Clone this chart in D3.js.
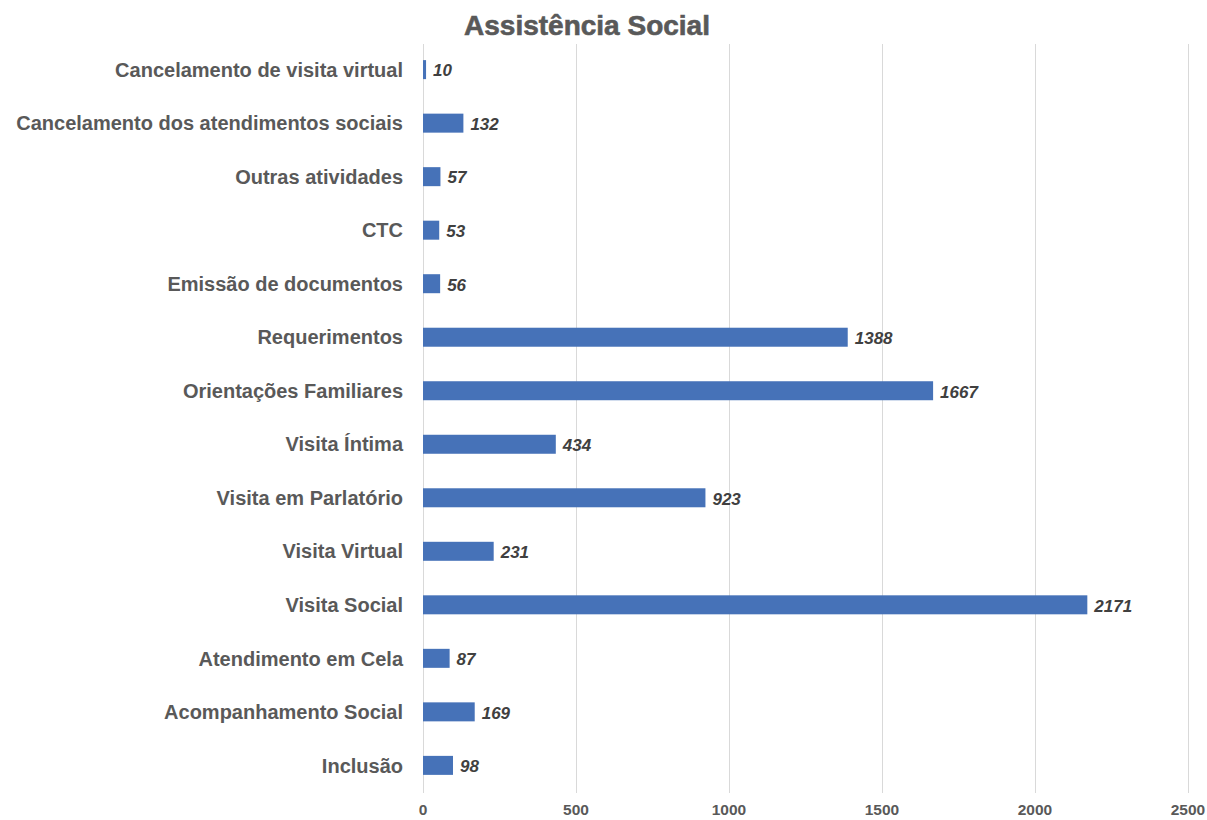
<!DOCTYPE html>
<html>
<head>
<meta charset="utf-8">
<script src="https://d3js.org/d3.v7.min.js"></script>
<style>
body { margin: 0; background: #fff; }
text { font-family: "Liberation Sans", Arial, sans-serif; }
.grid line { stroke: #d9d9d9; stroke-width: 1; }
.cat { font-size: 20px; font-weight: bold; fill: #595959; }
.val { font-size: 17px; font-weight: bold; font-style: italic; fill: #404040; }
.tick-label { font-size: 15.5px; font-weight: bold; fill: #595959; }
</style>
</head>
<body>
<script>

  var categories = [
    "Cancelamento de visita virtual",
    "Cancelamento dos atendimentos sociais",
    "Outras atividades",
    "CTC",
    "Emissão de documentos",
    "Requerimentos",
    "Orientações Familiares",
    "Visita Íntima",
    "Visita em Parlatório",
    "Visita Virtual",
    "Visita Social",
    "Atendimento em Cela",
    "Acompanhamento Social",
    "Inclusão"
  ];
  var values = [10, 132, 57, 53, 56, 1388, 1667, 434, 923, 231, 2171, 87, 169, 98];
  var ticks = [0, 500, 1000, 1500, 2000, 2500];

  var width = 1207,
      height = 820,
      margin = {top: 43, right: 19, bottom: 28, left: 423};

  var svg = d3.select('body').append('svg')
    .attr('width', width)
    .attr('height', height);

  var x = d3.scaleLinear()
    .domain([0, 2500])
    .range([margin.left, width - margin.right]);

  var y = d3.scaleBand()
    .domain(categories)
    .range([margin.top, height - margin.bottom])
    .paddingInner(0.645)
    .paddingOuter(0.32);

  // title
  svg.append('text')
    .attr('x', 587)
    .attr('y', 35)
    .attr('text-anchor', 'middle')
    .style('font-size', '28px')
    .style('font-weight', 'bold')
    .style('fill', '#595959')
    .style('stroke', '#595959')
    .style('stroke-width', '0.6px')
    .text('Assistência Social');

  // gridlines
  svg.append('g')
    .attr('class', 'grid')
    .selectAll('line')
    .data(ticks)
    .enter().append('line')
    .attr('x1', function(d) { return Math.round(x(d)) + 0.5; })
    .attr('x2', function(d) { return Math.round(x(d)) + 0.5; })
    .attr('y1', 44)
    .attr('y2', 793);

  // tick labels
  svg.append('g')
    .selectAll('text')
    .data(ticks)
    .enter().append('text')
    .attr('class', 'tick-label')
    .attr('x', function(d) { return x(d); })
    .attr('y', 815)
    .attr('text-anchor', 'middle')
    .text(function(d) { return d; });

  // category labels
  svg.append('g')
    .selectAll('text')
    .data(categories)
    .enter().append('text')
    .attr('class', 'cat')
    .attr('x', 403)
    .attr('y', function(d) { return y(d) + y.bandwidth() / 2; })
    .attr('dy', '0.36em')
    .attr('text-anchor', 'end')
    .text(function(d) { return d; });

  // bars
  svg.append('g')
    .selectAll('rect')
    .data(values)
    .enter().append('rect')
    .attr('x', x(0))
    .attr('y', function(d, i) { return y(categories[i]); })
    .attr('width', function(d) { return x(d) - x(0); })
    .attr('height', y.bandwidth())
    .attr('fill', '#4672b8');

  // value labels
  svg.append('g')
    .selectAll('text')
    .data(values)
    .enter().append('text')
    .attr('class', 'val')
    .attr('x', function(d) { return x(d) + 7; })
    .attr('y', function(d, i) { return y(categories[i]) + y.bandwidth() / 2; })
    .attr('dy', '0.4em')
    .text(function(d) { return d; });

</script>
</body>
</html>
